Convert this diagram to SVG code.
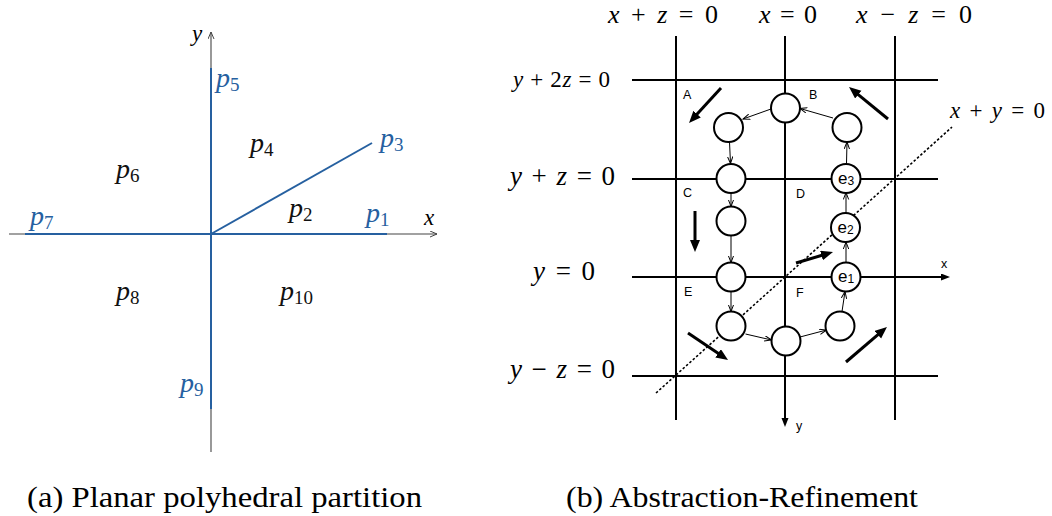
<svg xmlns="http://www.w3.org/2000/svg" width="1052" height="516" viewBox="0 0 1052 516">
<style>
.m{font-family:"Liberation Serif","DejaVu Serif",serif;fill:#000}
.v{font-style:italic}
.pl{font-family:"Liberation Serif","DejaVu Serif",serif;font-style:italic;font-size:28px}
.sub{font-style:normal;font-size:19px}
.blue{fill:#2660a0}
.blk{fill:#111}
.ax{stroke:#444;stroke-width:1.1;fill:none}
.bl{stroke:#2660a0;stroke-width:2;fill:none}
.g{stroke:#000;stroke-width:2;fill:none}
.nd{fill:#fff;stroke:#000;stroke-width:2}
.cn{stroke:#000;stroke-width:1;fill:none}
.big{stroke:#000;stroke-width:3;fill:none}
.lt{font-family:"Liberation Sans","DejaVu Sans",sans-serif;font-size:12.5px;fill:#000}
.el{font-family:"Liberation Sans","DejaVu Sans",sans-serif;font-size:17px;fill:#000}
.es{font-size:12px}
.cap{font-family:"Liberation Serif","DejaVu Serif",serif;font-size:29px;fill:#000}
</style>
<defs>
<marker id="axv" markerUnits="userSpaceOnUse" markerWidth="10" markerHeight="10" refX="7" refY="3.5" orient="auto">
<path d="M0,0.5 L7,3.5 L0,6.5" fill="none" stroke="#444" stroke-width="1"/>
</marker>
<marker id="sm" markerUnits="userSpaceOnUse" markerWidth="10" markerHeight="10" refX="7" refY="3" orient="auto">
<path d="M0,0.3 L7,3 L0,5.7" fill="none" stroke="#000" stroke-width="1"/>
</marker>
<marker id="bg" markerUnits="userSpaceOnUse" markerWidth="14" markerHeight="12" refX="4" refY="5" orient="auto">
<path d="M0,0 L12,5 L0,10 z" fill="#000"/>
</marker>
<marker id="axf" markerUnits="userSpaceOnUse" markerWidth="12" markerHeight="10" refX="3" refY="3.5" orient="auto">
<path d="M0,0 L9,3.5 L0,7 z" fill="#000"/>
</marker>
</defs>

<!-- Left panel -->
<g id="left-axes">
<line class="ax" x1="9" y1="234" x2="437" y2="234" marker-end="url(#axv)"/>
<line class="ax" x1="211" y1="452" x2="211" y2="32" marker-end="url(#axv)"/>
<text class="m v" x="424" y="225" font-size="23">x</text>
<text class="m v" x="192" y="41" font-size="23">y</text>
</g>
<g id="left-partition">
<line class="bl" x1="211" y1="68" x2="211" y2="409"/>
<line class="bl" x1="25" y1="234" x2="387" y2="234"/>
<line class="bl" x1="211" y1="234" x2="372" y2="143"/>
</g>
<g id="left-labels">
<text class="pl blue" x="216" y="87">p<tspan class="sub" dy="4">5</tspan></text>
<text class="pl blue" x="380" y="147">p<tspan class="sub" dy="4">3</tspan></text>
<text class="pl blk" x="250" y="152">p<tspan class="sub" dy="4">4</tspan></text>
<text class="pl blk" x="116" y="178">p<tspan class="sub" dy="4">6</tspan></text>
<text class="pl blk" x="289" y="217">p<tspan class="sub" dy="4">2</tspan></text>
<text class="pl blue" x="366" y="222">p<tspan class="sub" dy="4">1</tspan></text>
<text class="pl blue" x="30" y="225">p<tspan class="sub" dy="4">7</tspan></text>
<text class="pl blk" x="116" y="300">p<tspan class="sub" dy="4">8</tspan></text>
<text class="pl blk" x="280" y="300">p<tspan class="sub" dy="4">10</tspan></text>
<text class="pl blue" x="180" y="392">p<tspan class="sub" dy="4">9</tspan></text>
</g>

<!-- Right panel -->
<g id="grid">
<line class="g" x1="676" y1="36" x2="676" y2="420"/>
<line class="g" x1="785" y1="36" x2="785" y2="421" marker-end="url(#axf)"/>
<line class="g" x1="895" y1="36" x2="895" y2="420"/>
<line class="g" x1="632" y1="80" x2="938" y2="80"/>
<line class="g" x1="632" y1="179" x2="938" y2="179"/>
<line class="g" x1="632" y1="277" x2="944" y2="277" marker-end="url(#axf)"/>
<line class="g" x1="632" y1="376" x2="938" y2="376"/>
<line x1="656" y1="393" x2="952" y2="127" stroke="#000" stroke-width="1.6" stroke-dasharray="2.5,2"/>
<text class="lt" x="941" y="268">x</text>
<text class="lt" x="796" y="430">y</text>
</g>
<g id="grid-labels">
<text class="m" x="608" y="23" font-size="26" textLength="110" lengthAdjust="spacing"><tspan class="v">x</tspan> + <tspan class="v">z</tspan> = 0</text>
<text class="m" x="759" y="23" font-size="26" textLength="58" lengthAdjust="spacing"><tspan class="v">x</tspan> = 0</text>
<text class="m" x="856" y="23" font-size="26" textLength="116" lengthAdjust="spacing"><tspan class="v">x</tspan> − <tspan class="v">z</tspan> = 0</text>
<text class="m" x="513" y="87" font-size="23" textLength="97" lengthAdjust="spacing"><tspan class="v">y</tspan> + 2<tspan class="v">z</tspan> = 0</text>
<text class="m" x="510" y="185" font-size="27" textLength="105" lengthAdjust="spacing"><tspan class="v">y</tspan> + <tspan class="v">z</tspan> = 0</text>
<text class="m" x="533" y="280" font-size="27" textLength="62" lengthAdjust="spacing"><tspan class="v">y</tspan> = 0</text>
<text class="m" x="510" y="378" font-size="27" textLength="105" lengthAdjust="spacing"><tspan class="v">y</tspan> − <tspan class="v">z</tspan> = 0</text>
<text class="m" x="950" y="118" font-size="23" textLength="95" lengthAdjust="spacing"><tspan class="v">x</tspan> + <tspan class="v">y</tspan> = 0</text>
</g>
<g id="region-labels">
<text class="lt" x="683" y="99">A</text>
<text class="lt" x="809" y="99">B</text>
<text class="lt" x="683" y="197">C</text>
<text class="lt" x="796" y="198">D</text>
<text class="lt" x="684" y="296">E</text>
<text class="lt" x="796" y="297">F</text>
</g>
<g id="direction-arrows">
<line class="big" x1="721" y1="88" x2="694.4" y2="117.1" marker-end="url(#bg)"/>
<line class="big" x1="888" y1="119" x2="855.2" y2="92.1" marker-end="url(#bg)"/>
<line class="big" x1="695" y1="211" x2="695" y2="244" marker-end="url(#bg)"/>
<line class="big" x1="796" y1="263" x2="825.3" y2="254.3" marker-end="url(#bg)"/>
<line class="big" x1="688" y1="333" x2="721.4" y2="355.5" marker-end="url(#bg)"/>
<line class="big" x1="846" y1="362" x2="880.9" y2="332.2" marker-end="url(#bg)"/>
</g>
<g id="connectors">
<line class="cn" x1="833" y1="118" x2="800" y2="108.5" marker-end="url(#sm)"/>
<line class="cn" x1="771" y1="109" x2="743" y2="119" marker-end="url(#sm)"/>
<line class="cn" x1="729.5" y1="142" x2="730.5" y2="163.5" marker-end="url(#sm)"/>
<line class="cn" x1="731" y1="193" x2="731" y2="206.5" marker-end="url(#sm)"/>
<line class="cn" x1="731" y1="235.5" x2="731" y2="262.5" marker-end="url(#sm)"/>
<line class="cn" x1="731" y1="291.5" x2="731" y2="311.5" marker-end="url(#sm)"/>
<line class="cn" x1="745.5" y1="334" x2="771.5" y2="340" marker-end="url(#sm)"/>
<line class="cn" x1="800" y1="337" x2="826.5" y2="330" marker-end="url(#sm)"/>
<line class="cn" x1="842" y1="311.5" x2="845" y2="291.5" marker-end="url(#sm)"/>
<line class="cn" x1="846" y1="262.5" x2="846" y2="242" marker-end="url(#sm)"/>
<line class="cn" x1="846" y1="213" x2="846" y2="192.5" marker-end="url(#sm)"/>
<line class="cn" x1="846.5" y1="163.5" x2="847" y2="142" marker-end="url(#sm)"/>
</g>
<g id="n1"><circle class="nd" cx="785.5" cy="108" r="14.5"/></g>
<g id="n2"><circle class="nd" cx="728.5" cy="127.5" r="14.5"/></g>
<g id="n3"><circle class="nd" cx="731" cy="178.5" r="14.5"/></g>
<g id="n4"><circle class="nd" cx="731" cy="221" r="14.5"/></g>
<g id="n5"><circle class="nd" cx="731" cy="277" r="14.5"/></g>
<g id="n6"><circle class="nd" cx="731" cy="326" r="14.5"/></g>
<g id="n7"><circle class="nd" cx="786" cy="341" r="14.5"/></g>
<g id="n8"><circle class="nd" cx="840" cy="326" r="14.5"/></g>
<g id="e1"><circle class="nd" cx="846" cy="277" r="14.5"/><text class="el" x="838" y="282">e<tspan class="es" dy="1">1</tspan></text></g>
<g id="e2"><circle class="nd" cx="845.5" cy="227.5" r="14.5"/><text class="el" x="837.5" y="233">e<tspan class="es" dy="1">2</tspan></text></g>
<g id="e3"><circle class="nd" cx="846" cy="178.5" r="14.5"/><text class="el" x="838" y="184">e<tspan class="es" dy="1">3</tspan></text></g>
<g id="n12"><circle class="nd" cx="847" cy="127.5" r="14.5"/></g>

<g id="captions">
<text class="cap" x="27" y="507" textLength="395" lengthAdjust="spacingAndGlyphs">(a) Planar polyhedral partition</text>
<text class="cap" x="566" y="507" textLength="352" lengthAdjust="spacingAndGlyphs">(b) Abstraction-Refinement</text>
</g>
</svg>
